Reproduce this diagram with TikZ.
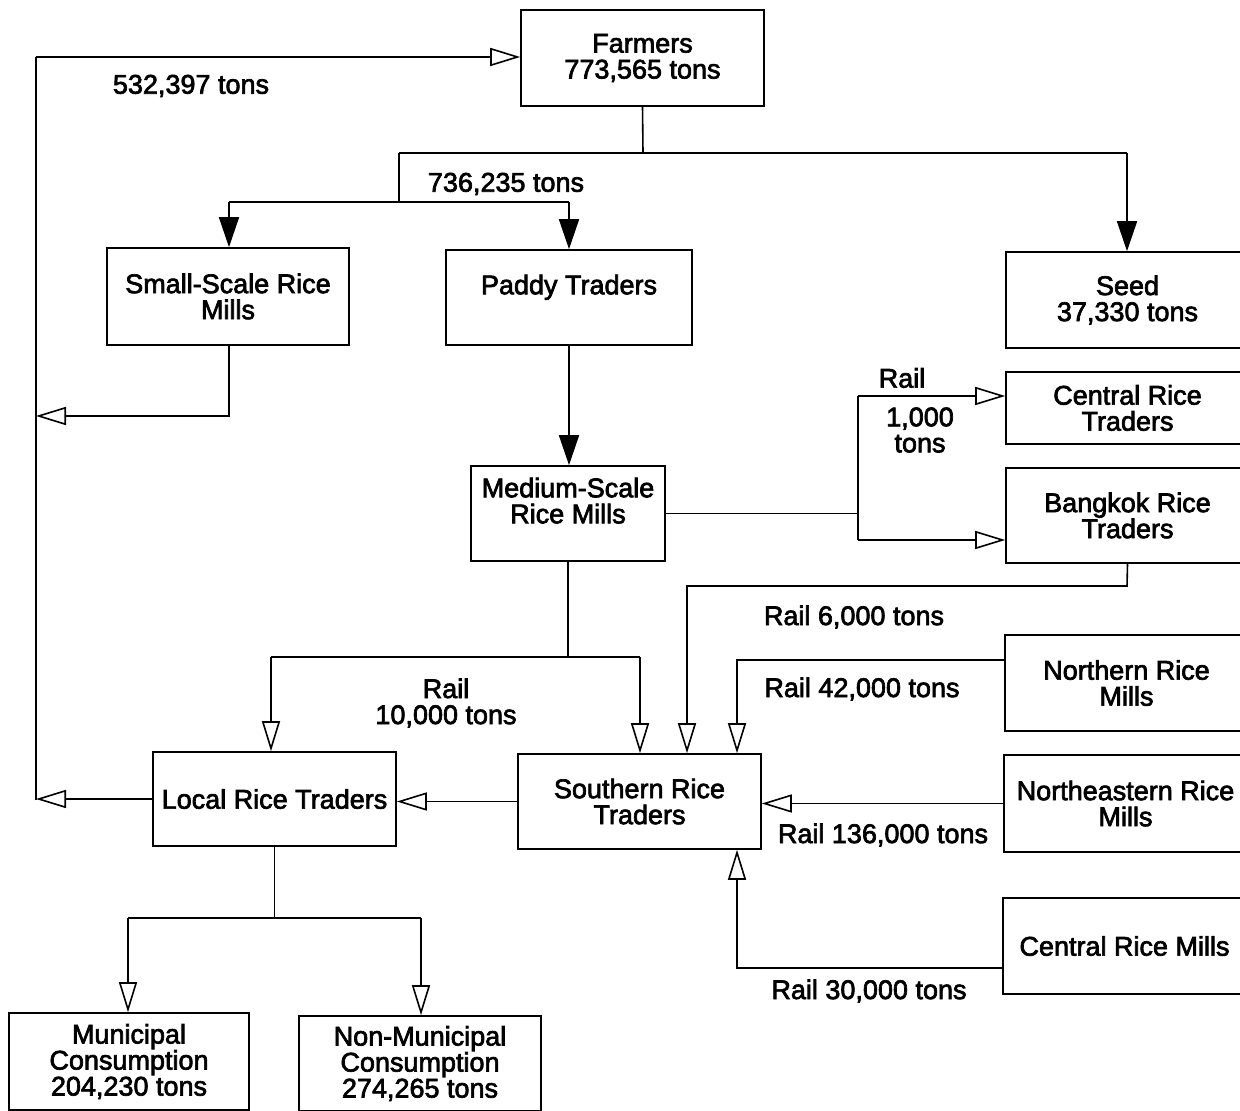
\documentclass[tikz,border=0pt]{standalone}
\usepackage{fontspec}
\setmainfont{Liberation Sans}
\newfontfamily\diagfont{Liberation Sans}[FakeBold=2.5]
\usetikzlibrary{arrows.meta}
\begin{document}
\begin{tikzpicture}[x=0.5pt,y=-0.5pt,
  txt/.style={font=\diagfont\fontsize{13.5}{13}\selectfont},
  box/.style={txt, draw, line width=0.8pt, align=center, inner sep=0pt},
  lbl/.style={txt, align=center, inner sep=0pt},
  flow/.style={line width=0.8pt},
  hollow/.style={flow, -{Triangle[open, length=15pt, width=9pt]}},
  fillarrow/.style={flow, -{Triangle[length=15pt, width=10pt]}}]
\path[use as bounding box] (0,0) rectangle (1240,1111);
\clip (0,0) rectangle (1240,1111);

% boxes
\node[box, minimum width=121.5pt, minimum height=48pt] (farm) at (642.5,58) {Farmers\\773,565 tons};
\node[box, minimum width=121pt, minimum height=48.5pt] (small) at (228,296.5) {Small-Scale Rice\\Mills};
\node[box, minimum width=123pt, minimum height=47.5pt] (paddy) at (569,297.5) {Paddy Traders\\ \mbox{}};
\node[box, minimum width=121.5pt, minimum height=48pt] (seed) at (1127.5,300) {Seed\\37,330 tons};
\node[box, minimum width=121.5pt, minimum height=36pt] (centralT) at (1127.5,408) {Central Rice\\Traders};
\node[box, minimum width=121.5pt, minimum height=47.5pt] (bangkok) at (1127.5,515.5) {Bangkok Rice\\Traders};
\node[box, minimum width=97pt, minimum height=47.5pt] (medium) at (568,513.5) {Medium-Scale\\Rice Mills\\ \mbox{}};
\node[box, minimum width=121.5pt, minimum height=48pt] (northern) at (1126.5,683) {Northern Rice\\Mills};
\node[box, minimum width=121.5pt, minimum height=47.5pt] (southern) at (639.5,801.5) {Southern Rice\\Traders};
\node[box, minimum width=121.5pt, minimum height=47pt] (local) at (274.5,799) {Local Rice Traders};
\node[box, minimum width=121.5pt, minimum height=48.5pt] (northeast) at (1125.5,803.5) {Northeastern Rice\\Mills};
\node[box, minimum width=121.5pt, minimum height=48pt] (centralM) at (1124.5,946) {Central Rice Mills};
\node[box, minimum width=120pt, minimum height=48.5pt] (muni) at (129,1061.5) {Municipal\\Consumption\\204,230 tons};
\node[box, minimum width=121pt, minimum height=47.5pt] (nonmuni) at (420,1063.5) {Non-Municipal\\Consumption\\274,265 tons};

% junction points
\coordinate (j1) at (643,153);
\coordinate (jl) at (399,153);
\coordinate (jr) at (1127,153);
\coordinate (jl2) at (399,202);
\coordinate (sa) at (229,202);
\coordinate (pa) at (569,202);
\coordinate (sm) at (229,416);
\coordinate (tk1) at (36,416);
\coordinate (tkTop) at (36,57);
\coordinate (tkBot) at (36,800);
\coordinate (mr) at (858,515);
\coordinate (mrt) at (858,396);
\coordinate (mrb) at (858,540);
\coordinate (bk1) at (1127,586);
\coordinate (bk2) at (687,586);
\coordinate (md) at (569,657);
\coordinate (mdl) at (271,657);
\coordinate (mdr) at (640,657);
\coordinate (nr) at (737,660);
\coordinate (cm) at (737,968);
\coordinate (lc) at (275,918);
\coordinate (lcl) at (128,918);
\coordinate (lcr) at (421,918);

% farmers outflows
\draw[flow] (farm.south) -- (j1);
\draw[flow] (jl) -- (jr);
\draw[flow] (jl) -- (jl2);
\draw[flow] (sa) -- (pa);
\draw[fillarrow] (sa) -- (sa |- small.north);
\draw[fillarrow] (pa) -- (paddy.north);
\draw[fillarrow] (jr) -- (jr |- seed.north);

% return trunk to farmers
\draw[flow] (tkBot) -- (tkTop);
\draw[hollow] (tkTop) -- (tkTop -| farm.west);
\draw[hollow] (sa |- small.south) -- (sm) -- (tk1);
\draw[hollow] (local.west) -- (local.west -| tkBot);

% medium-scale mills
\draw[fillarrow] (paddy.south) -- (paddy.south |- medium.north);
\draw[flow] (medium.east) -- (medium.east -| mr);
\draw[flow] (mrt) -- (mrb);
\draw[hollow] (mrt) -- (mrt -| centralT.west);
\draw[hollow] (mrb) -- (mrb -| bangkok.west);
\draw[flow] (medium.south) -- (medium.south |- md);
\draw[flow] (mdl) -- (mdr);
\draw[hollow] (mdl) -- (mdl |- local.north);
\draw[hollow] (mdr) -- (mdr |- southern.north);

% inflows to southern rice traders
\draw[hollow] (bangkok.south) -- (bk1) -- (bk2) -- (bk2 |- southern.north);
\draw[hollow] (nr -| northern.west) -- (nr) -- (nr |- southern.north);
\draw[hollow] (northeast.west) -- (northeast.west -| southern.east);
\draw[hollow] (cm -| centralM.west) -- (cm) -- (cm |- southern.south);
\draw[hollow] (southern.west) -- (southern.west -| local.east);

% consumption
\draw[flow] (local.south) -- (local.south |- lc);
\draw[flow] (lcl) -- (lcr);
\draw[hollow] (lcl) -- (lcl |- muni.north);
\draw[hollow] (lcr) -- (lcr |- nonmuni.north);

% flow labels
\node[lbl] (l532) at (191,86) {532,397 tons};
\node[lbl] (l736) at (506,184) {736,235 tons};
\node[lbl] (lrail1) at (902,378) {Rail};
\node[lbl] (l1000) at (920,430) {1,000\\tons};
\node[lbl] (l6000) at (854,617) {Rail 6,000 tons};
\node[lbl] (l10000) at (446,703) {Rail\\10,000 tons};
\node[lbl] (l42000) at (862,689) {Rail 42,000 tons};
\node[lbl] (l136000) at (883,835) {Rail 136,000 tons};
\node[lbl] (l30000) at (869,991) {Rail 30,000 tons};
\end{tikzpicture}
\end{document}
